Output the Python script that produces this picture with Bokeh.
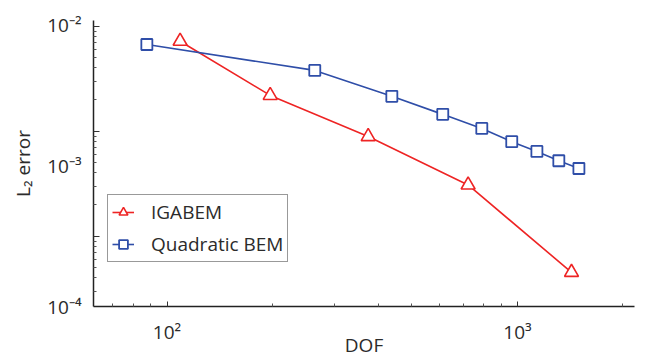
from bokeh.plotting import figure
from bokeh.models import Range1d, LogScale, LogAxis, FixedTicker, Legend, LegendItem
from bokeh.embed import file_html
from bokeh.resources import INLINE

# ---- data ----
igabem_dof = [109, 197, 375, 723, 1426]
igabem_err = [7.73e-3, 3.18e-3, 1.62e-3, 7.33e-4, 1.75e-4]

qbem_dof = [87.6, 264, 438, 612, 791, 963, 1136, 1312, 1497]
qbem_err = [7.32e-3, 4.79e-3, 3.13e-3, 2.33e-3, 1.85e-3, 1.49e-3, 1.27e-3, 1.09e-3, 9.6e-4]

series_names = ["IGABEM", "Quadratic BEM"]

# ---- ticks ----
x_major = [100, 1000]
x_minor = [70, 80, 90, 200, 300, 400, 500, 600, 700, 800, 900, 2000]
x_tick_labels = ["10²", "10³"]

y_label_ticks = [1e-4, 1e-3, 1e-2]
y_tick_labels = ["10⁻⁴", "10⁻³", "10⁻²"]

y_mark_major = [1e-4, 1e-3, 1e-2]
y_mark_minor = [m * d for d in (1e-5, 1e-4, 1e-3) for m in range(2, 10)]

FONT = "Open Sans"
TXT = "#2b2b2b"
RED = "#EE2424"
BLUE = "#2F4EA8"

p = figure(width=651, height=361, x_axis_type="log", y_axis_type="log",
           x_range=Range1d(61.7, 2157), y_range=Range1d(2.141e-5, 1.1332e-2),
           output_backend="svg", toolbar_location=None,
           min_border_left=93, min_border_right=17, min_border_top=20, min_border_bottom=55)
p.outline_line_color = None
p.xgrid.visible = False
p.ygrid.visible = False

p.extra_y_ranges = {"lab": Range1d(1e-4, 1.085e-2)}
p.extra_y_scales = {"lab": LogScale()}

# tick-mark axis (inner)
ya = p.yaxis[0]
ya.ticker = FixedTicker(ticks=y_mark_major, minor_ticks=y_mark_minor)
ya.major_label_overrides = {v: "" for v in y_mark_major}
ya.major_label_standoff = 0
ya.major_tick_in = 6
ya.major_tick_out = 0
ya.minor_tick_in = 3
ya.minor_tick_out = 0
ya.axis_line_color = "#222222"
ya.axis_line_width = 1.5
ya.major_tick_line_color = "#333333"
ya.minor_tick_line_color = "#555555"

# label axis (outer)
yl = LogAxis(y_range_name="lab",
             ticker=FixedTicker(ticks=y_label_ticks, minor_ticks=[]),
             major_label_overrides=dict(zip(y_label_ticks, y_tick_labels)),
             axis_line_color=None, major_tick_line_color=None, minor_tick_line_color=None,
             major_tick_in=0, major_tick_out=0, minor_tick_in=0, minor_tick_out=0,
             major_label_standoff=12,
             major_label_text_font=FONT, major_label_text_font_size="19px",
             major_label_text_color=TXT,
             axis_label="L₂ error", axis_label_text_font=FONT,
             axis_label_text_font_size="19px", axis_label_text_font_style="normal",
             axis_label_text_color=TXT, axis_label_standoff=8)
p.add_layout(yl, "left")

xa = p.xaxis[0]
xa.ticker = FixedTicker(ticks=x_major, minor_ticks=x_minor)
xa.major_label_overrides = dict(zip(x_major, x_tick_labels))
xa.major_tick_in = 5
xa.major_tick_out = 0
xa.minor_tick_in = 3
xa.minor_tick_out = 0
xa.axis_line_color = "#222222"
xa.axis_line_width = 1.5
xa.major_tick_line_color = "#333333"
xa.minor_tick_line_color = "#555555"
xa.major_label_standoff = 12
xa.major_label_text_font = FONT
xa.major_label_text_font_size = "19px"
xa.major_label_text_color = TXT
xa.axis_label = "DOF"
xa.axis_label_text_font = FONT
xa.axis_label_text_font_size = "19px"
xa.axis_label_text_font_style = "normal"
xa.axis_label_text_color = TXT
xa.axis_label_standoff = -16

l1 = p.line(igabem_dof, igabem_err, line_color=RED, line_width=1.6, y_range_name="lab")
s1 = p.scatter(igabem_dof, igabem_err, marker="triangle", size=14, line_color=RED,
               fill_color="white", line_width=1.6, y_range_name="lab")
l2 = p.line(qbem_dof, qbem_err, line_color=BLUE, line_width=1.6, y_range_name="lab")
s2 = p.scatter(qbem_dof, qbem_err, marker="square", size=11, line_color=BLUE,
               fill_color="white", line_width=1.8, y_range_name="lab")

legend = Legend(items=[LegendItem(label=series_names[0], renderers=[l1, s1]),
                       LegendItem(label=series_names[1], renderers=[l2, s2])],
                location=(14, 44), margin=0, padding=4, spacing=6,
                glyph_width=22, glyph_height=26, label_standoff=17,
                label_text_font=FONT, label_text_font_size="19px", label_text_color=TXT,
                border_line_color="#333333", border_line_width=1,
                background_fill_color="white", background_fill_alpha=1)
p.add_layout(legend)

open("out.html", "w").write(file_html(p, INLINE))
